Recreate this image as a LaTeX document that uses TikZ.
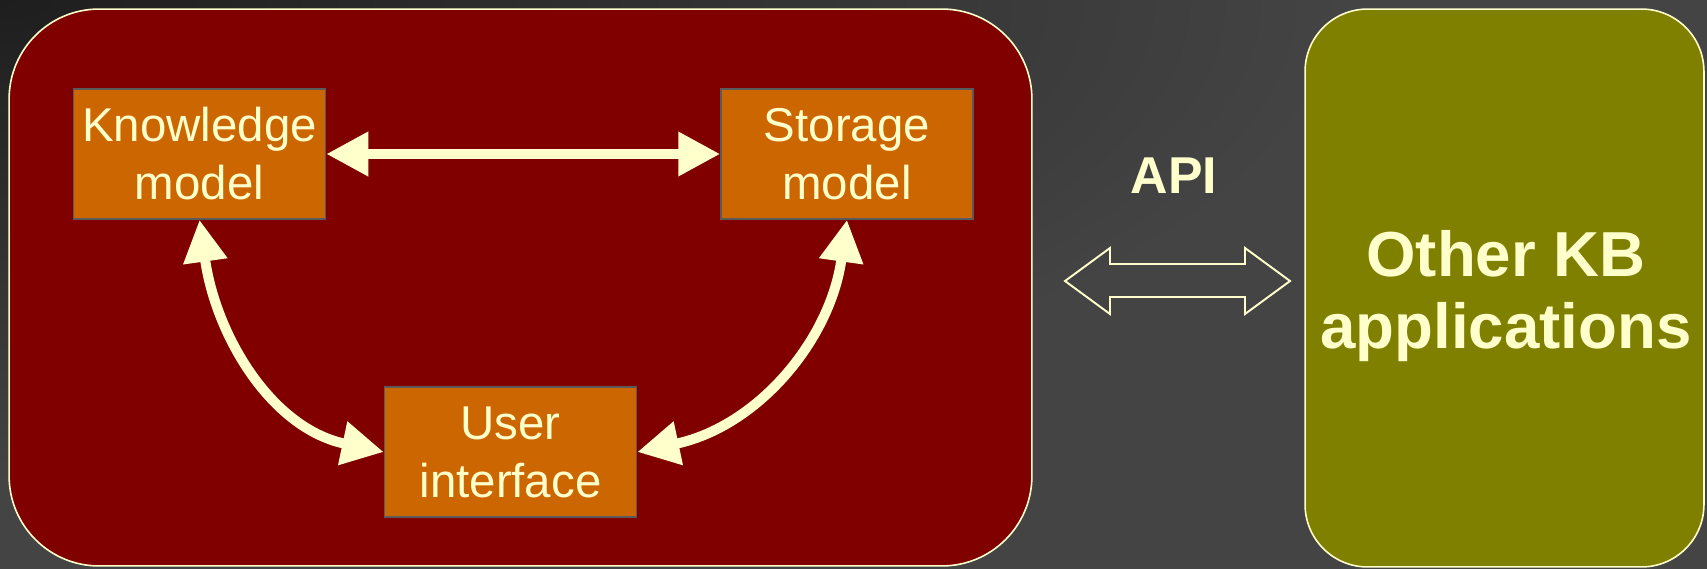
\documentclass[tikz,border=0pt]{standalone}
\usepackage{fontspec}
\setmainfont{Liberation Sans}
\usetikzlibrary{arrows.meta,positioning,calc}

\definecolor{kbred}{HTML}{800000}
\definecolor{kbolive}{HTML}{808000}
\definecolor{kborange}{HTML}{CC6600}
\definecolor{kbcream}{HTML}{FFFFCC}
\definecolor{kbgrey}{HTML}{5A5A5A}
\definecolor{bgdark}{HTML}{1E1E1E}
\definecolor{bglight}{HTML}{444444}

\begin{document}
\begin{tikzpicture}[x=0.02cm,y=-0.02cm,>={Triangle[length=0.84cm,width=0.84cm]},
  part/.style={draw=kbgrey,line width=0.9pt,fill=kborange,text=kbcream,
    minimum width=5.04cm,minimum height=2.6cm,inner sep=0pt,align=center,
    font=\fontsize{27}{33}\selectfont},
  link/.style={<->,draw=kbcream,line width=0.2cm},
  panel/.style={draw=kbcream,line width=0.9pt,inner sep=0pt}]
\useasboundingbox (0,0) rectangle (1707,569);
\fill[bglight] (0,0) rectangle (1707,569);
\begin{scope}
\clip (0,0) rectangle (1707,569);
\shade[inner color=bgdark,outer color=bglight] (0,0) ellipse [x radius=1350,y radius=480];
\end{scope}

\node[panel,fill=kbred,rounded corners=1.8cm,minimum width=20.46cm,minimum height=11.14cm] (kbs) at (520.5,287.5) {};
\node[panel,fill=kbolive,rounded corners=1.25cm,minimum width=7.98cm,minimum height=11.16cm] (apps) at (1504.5,288) {};
\node[text=kbcream,align=center,font=\bfseries\fontsize{36.2}{41}\selectfont] (appsname) at (1506,296) {Other KB\\applications};

\node[part] (kn) at (199.5,154) {Knowledge\\model};
\node[part] (st) at (847,154) {Storage\\model};
\node[part] (ui) at (510.5,452) {User\\interface};

\draw[link] (kn.east) -- (st.west);
\draw[link] (kn.south) to[out=-82,in=168] (ui.west);
\draw[link] (st.south) to[out=-98,in=12] (ui.east);

\node[text=kbcream,font=\bfseries\fontsize{29.5}{35}\selectfont] (api) at (1174,176) {API};
\draw[draw=kbcream,line width=1.1pt] (1065,281) -- (1110,248) -- (1110,264) -- (1245,264) -- (1245,248) -- (1290,281)
  -- (1245,314) -- (1245,297) -- (1110,297) -- (1110,314) -- cycle;
\end{tikzpicture}
\end{document}
